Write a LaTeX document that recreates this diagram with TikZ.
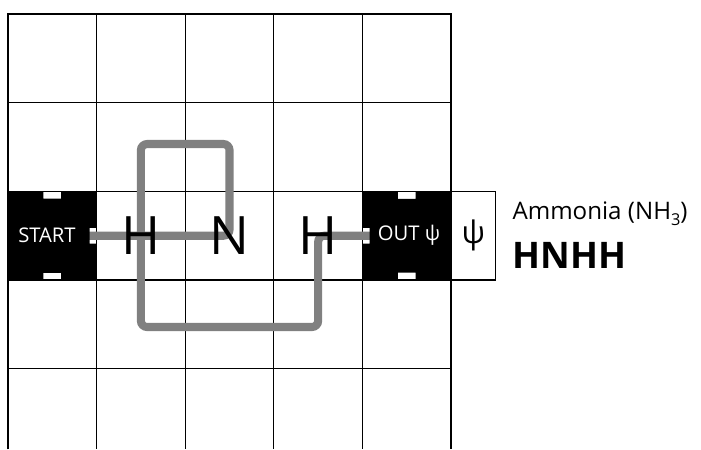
\documentclass[tikz,border=0pt]{standalone}
\usepackage{fontspec}
\setmainfont{Open Sans}
\usetikzlibrary{backgrounds}
\begin{document}
\begin{tikzpicture}[
    grid line/.style={line width=0.8pt},
    bond/.style={line width=5.2pt,color=black!50,rounded corners=4pt},
    port/.style={fill=black},
    atom/.style={inner sep=0pt,font=\fontsize{34}{40}\selectfont},
    portlabel/.style={inner sep=0pt,text=white,font=\fontsize{13}{15}\selectfont}]
    \useasboundingbox (-0.18,0.32) rectangle (15.64,-9.82);
    % ports and atoms
    \node[portlabel] (start) at (0.88,-5) {START};
    \node[portlabel] (out) at (9.05,-5) {OUT ψ};
    \node[atom] (h1) at (3,-5) {H};
    \node[atom] (n) at (5,-5) {N};
    \node[atom] (h2) at (7,-5) {H};
    \node[draw,line width=0.8pt,minimum width=1cm,minimum height=2cm,inner sep=0pt,font=\fontsize{20}{24}\selectfont] (psi) at (10.5,-5) {ψ};
    \node[anchor=base west,inner sep=0pt,font=\fontsize{15.5}{18}\selectfont] (name) at (11.38,-4.63) {Ammonia (NH\raisebox{-0.5ex}{\fontsize{10.5}{12}\selectfont 3})};
    \node[anchor=base west,inner sep=0pt,font=\fontsize{23.5}{28}\bfseries] (formula) at (11.38,-5.73) {HNHH};
    \begin{scope}[on background layer]
        \foreach \x in {2,4,6,8}
            \draw[grid line] (\x,0) -- (\x,-9.82);
        \foreach \y in {-2,-4,-6,-8}
            \draw[grid line] (0,\y) -- (10,\y);
        \draw[line width=1.6pt] (0,-9.82) -- (0,0) -- (10,0) -- (10,-9.82);
        \draw[bond] (start.center) -- (n.center) -- ++(0,2.07) -| (h1.center) -- ++(0,-2.06) -| (h2.center) -- (out.center);
        \fill[port] (0,-4) -- (0.8,-4) -- (0.8,-4.16) -- (1.2,-4.16) -- (1.2,-4) -- (2,-4) -- (2,-4.82) -- (1.84,-4.82) -- (1.84,-5.18) -- (2,-5.18) -- (2,-6) -- (1.2,-6) -- (1.2,-5.84) -- (0.8,-5.84) -- (0.8,-6) -- (0,-6) -- cycle;
        \fill[port] (8,-4) -- (8.8,-4) -- (8.8,-4.17) -- (9.2,-4.17) -- (9.2,-4) -- (10,-4) -- (10,-6) -- (9.2,-6) -- (9.2,-5.83) -- (8.8,-5.83) -- (8.8,-6) -- (8,-6) -- (8,-5.18) -- (8.16,-5.18) -- (8.16,-4.82) -- (8,-4.82) -- cycle;
    \end{scope}
\end{tikzpicture}
\end{document}
